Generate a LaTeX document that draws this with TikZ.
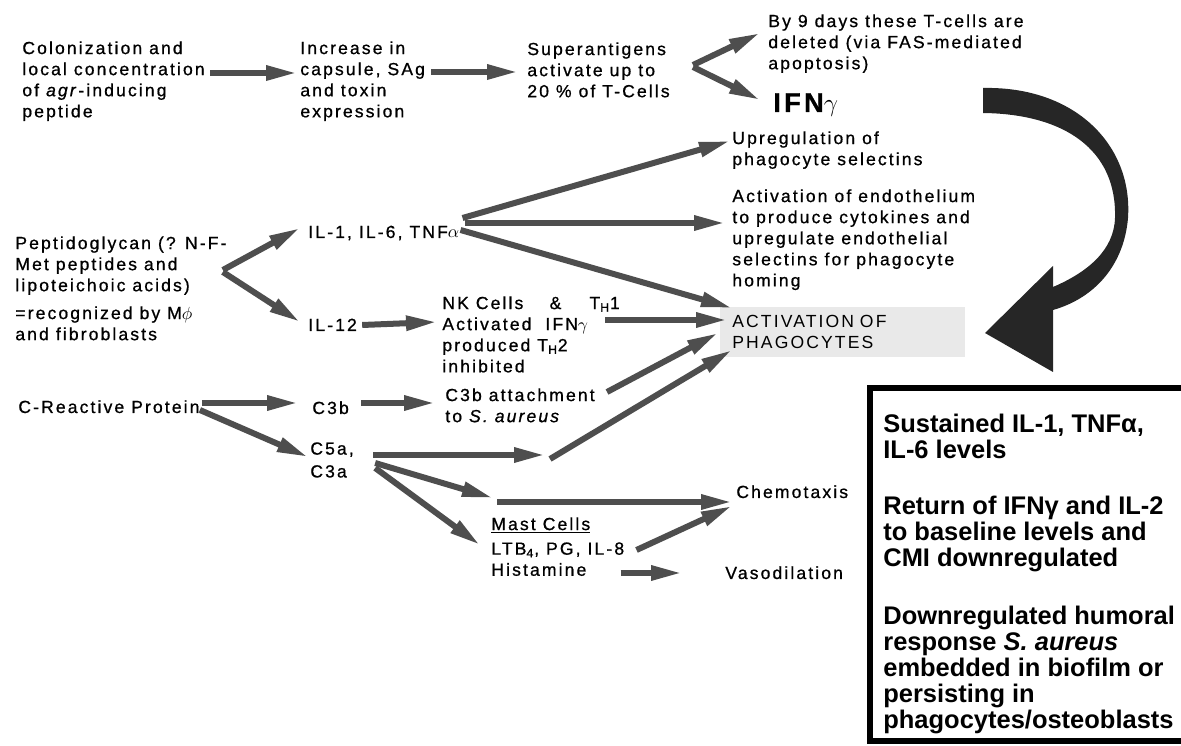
\documentclass[tikz,border=0pt]{standalone}
\usepackage{fontspec}
\setmainfont{Liberation Sans}[LetterSpace=12,FakeBold=0.8]
\newfontfamily\actfont{Liberation Sans}[LetterSpace=12]
\newfontfamily\boxfont{Liberation Sans}
\usetikzlibrary{arrows.meta}
\definecolor{arrgrey}{RGB}{78,78,78}

\begin{document}
\begin{tikzpicture}[
  x=0.02cm, y=-0.02cm,
  txt/.style={anchor=north west,inner sep=0pt,align=left,font=\fontsize{10}{12}\selectfont},
  lbl/.style={anchor=base west,inner sep=0pt,font=\fontsize{10}{12}\selectfont},
  bigtxt/.style={anchor=north west,inner sep=0pt,align=left,font=\boxfont\bfseries\fontsize{14.5}{14.8}\selectfont},
  actbox/.style={anchor=north west,fill=gray!17,minimum width=4.9cm,minimum height=1cm,
    text width=4.42cm,inner xsep=0.24cm,inner ysep=0pt,align=left,font=\actfont\fontsize{10}{12}\selectfont},
  arr/.style={draw=arrgrey,line width=0.12cm,-{Triangle[length=0.62cm,width=0.28cm]}},
]
\useasboundingbox (0,0) rectangle (1181,746);

% ---------- top row: superantigen pathway ----------
\node[txt] (colon) at (22,41) {Colonization and\\local concentration\\of \textit{agr}-inducing\\peptide};
\node[txt] (incr) at (300,41) {Increase in\\capsule, SAg\\and toxin\\expression};
\node[txt] (supag) at (527,42) {Superantigens\\activate up to\\20 \% of T-Cells};
\node[txt] (bydays) at (768,14) {By 9 days these T-cells are\\deleted (via FAS-mediated\\apoptosis)};
\node[anchor=base west,inner sep=0pt,font=\fontsize{15.5}{17}\selectfont\bfseries] (ifng) at (773,112) {IFN$\gamma$};

\draw[arr] ([shift={(5,32)}]colon.north east) -- ([shift={(-3,32)}]incr.north west);
\draw[arr] ([shift={(6,31)}]incr.north east) -- ([shift={(-9,30)}]supag.north west);
\draw[arr] ([shift={(23,23)}]supag.north east) -- ([shift={(-8,19)}]bydays.north west);
\draw[arr] ([shift={(23,25)}]supag.north east) -- ([shift={(-13,-12)}]ifng.base west);

% ---------- middle: peptidoglycan ----------
\node[txt] (pepti) at (15,236) {Peptidoglycan (? N-F-\\Met peptides and\\lipoteichoic acids)};
\node[txt] (recog) at (15,306) {=recognized by M$\phi$\\and fibroblasts};
\node[lbl] (il1) at (308,238) {IL-1, IL-6, TNF$\alpha$};
\node[lbl] (il12) at (308,331) {IL-12};
\node[txt] (upreg) at (732,131) {Upregulation of\\phagocyte selectins};
\node[txt] (endo) at (732,189) {Activation of endothelium\\to produce cytokines and\\upregulate endothelial\\selectins for phagocyte\\homing};
\node[txt] (nk) at (442,296) {NK Cells\hspace{15pt}\&\hspace{16pt}T\textsubscript{H}1\\Activated\ \ IFN$\gamma$\\produced T\textsubscript{H}2\\inhibited};
\node[actbox] (act) at (720,307) {ACTIVATION OF\\PHAGOCYTES};

\draw[arr] ([shift={(-4,34)}]pepti.north east) -- ([shift={(-8,-10)}]il1.base west);
\draw[arr] ([shift={(-4,36)}]pepti.north east) -- ([shift={(-8,-9)}]il12.base west);
\draw[arr] ([shift={(3,-20)}]il1.base east) -- ([shift={(-2,10)}]upreg.north west);
\draw[arr] ([shift={(5,-15)}]il1.base east) -- ([shift={(-7,34)}]endo.north west);
\draw[arr] ([shift={(1,-8)}]il1.base east) -- ([shift={(12,1)}]act.north west);
\draw[arr] ([shift={(5,-6)}]il12.base east) -- ([shift={(-5,26)}]nk.north west);
\draw[arr] ([shift={(-15,24)}]nk.north east) -- ([shift={(7,13)}]act.north west);

% ---------- bottom: complement ----------
\node[lbl] (crp) at (18,413) {C-Reactive Protein};
\node[lbl] (c3b) at (312,414) {C3b};
\node[txt] (c3batt) at (445,388) {C3b attachment\\to \textit{S. aureus}};
\node[txt] (c5a) at (310,442) {C5a,\\[1pt]C3a};
\node[txt] (mast) at (491,517) {\underline{Mast Cells}\\[2pt]LTB\textsubscript{4}, PG, IL-8\\Histamine};
\node[lbl] (chemo) at (736,498) {Chemotaxis};
\node[lbl] (vaso) at (725,579) {Vasodilation};
\coordinate (gap) at (547,455);

\draw[arr] ([shift={(2,-10)}]crp.base east) -- ([shift={(-14,-11)}]c3b.base west);
\draw[arr] ([shift={(0,-3)}]crp.base east) -- ([shift={(-2,15)}]c5a.north west);
\draw[arr] ([shift={(12,-11)}]c3b.base east) -- ([shift={(-10,15)}]c3batt.north west);
\draw[arr] ([shift={(12,4)}]c3batt.north east) -- ([shift={(-2,26)}]act.north west);
\draw[arr] ([shift={(19,13)}]c5a.north east) -- ([shift={(-2,0)}]gap);
\draw[arr] ([shift={(3,4)}]gap) -- ([shift={(12,43)}]act.north west);
\draw[arr] ([shift={(21,21)}]c5a.north east) -- ([shift={(2,-19)}]mast.north west);
\draw[arr] ([shift={(21,26)}]c5a.north east) -- ([shift={(-11,28)}]mast.north west);
\draw[arr] ([shift={(6,-15)}]mast.north west) -- ([shift={(-4,4)}]chemo.base west);
\draw[arr] ([shift={(12,33)}]mast.north east) -- ([shift={(-4,8)}]chemo.base west);
\draw[arr] ([shift={(-4,56)}]mast.north east) -- ([shift={(-43,-6)}]vaso.base west);

% ---------- big curved arrow ----------
\fill[black!85] (983,88) .. controls (1075,86) and (1133,145) .. (1128,218)
  .. controls (1124,265) and (1095,298) .. (1053,310)
  -- (1053,372) -- (985,333) -- (1053,266) -- (1053,287)
  .. controls (1088,272) and (1114,250) .. (1115,218)
  .. controls (1117,150) and (1065,114) .. (983,113) -- cycle;

% ---------- right box ----------
\draw[line width=0.12cm] (1200,388) -- (870,388) -- (870,741) -- (1200,741);
\node[bigtxt] (sust) at (883,413.5) {Sustained IL-1, TNFα,\\IL-6 levels};
\node[bigtxt] (ret) at (883,495.5) {Return of IFNγ and IL-2\\to baseline levels and\\CMI downregulated};
\node[bigtxt] (down) at (883,605.5) {Downregulated humoral\\response \textit{S. aureus}\\embedded in biofilm or\\persisting in\\phagocytes/osteoblasts};

\end{tikzpicture}
\end{document}
